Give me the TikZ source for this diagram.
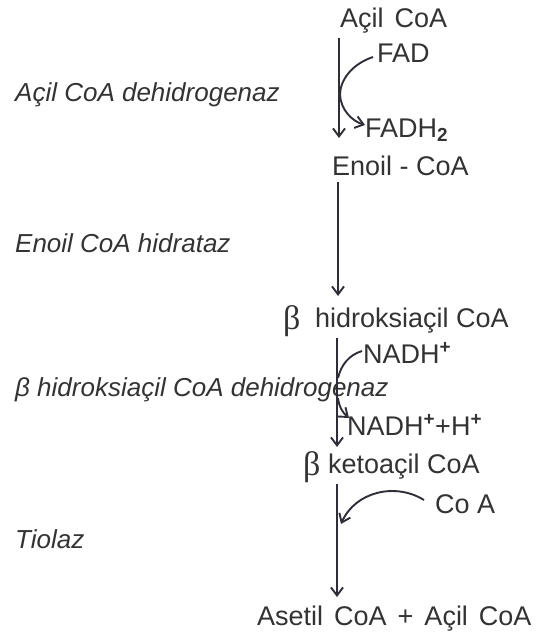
\documentclass[tikz,border=0pt]{standalone}
\usepackage{fontspec}
\setmainfont{Liberation Sans}
\newfontfamily\betafont{Liberation Serif}
\usetikzlibrary{arrows.meta}
\definecolor{ink}{HTML}{333333}
\definecolor{lineink}{HTML}{2E2E38}
\newcommand{\wsp}{\hspace{11pt}}
\begin{document}
\begin{tikzpicture}[x=1pt,y=-1pt,
  lbl/.style={anchor=base west, inner sep=0pt, text=ink, font=\fontsize{27}{31}\selectfont},
  enz/.style={anchor=base west, inner sep=0pt, text=ink, font=\fontsize{26}{30}\selectfont\itshape},
  bet/.style={anchor=base west, inner sep=0pt, text=ink, font=\fontsize{34}{38}\betafont},
  rx/.style={draw=lineink, line width=1.9pt, -{Straight Barb[length=8pt,width=12pt,line width=1.9pt]}},
  ln/.style={draw=lineink, line width=1.9pt}]
\useasboundingbox (0,0) rectangle (545,634);
% main chain
\node[lbl] (acil) at (340,28) {Açil\wsp CoA};
\node[lbl] (fad) at (377,63) {FAD};
\node[lbl] (fadh) at (365,137) {FADH\textsubscript{\bfseries 2}};
\node[lbl] (enoil) at (332,175) {Enoil - CoA};
\node[bet] (b1) at (283,329) {β};
\node[lbl] (hidr) at (315,327) {hidroksiaçil CoA};
\node[lbl] (nadh) at (363,363) {NADH\textsuperscript{\bfseries +}};
\node[lbl] (nadhh) at (347,435) {NADH\textsuperscript{\bfseries +}+H\textsuperscript{\bfseries +}};
\node[bet] (b2) at (303,475) {β};
\node[lbl] (keto) at (328,473) {ketoaçil CoA};
\node[lbl] (coa) at (435,513) {Co A};
\node[lbl] (prod) at (257,625) {Asetil\wsp CoA\wsp +\wsp Açil\wsp CoA};
% enzymes
\node[enz] (e1) at (15,101) {Açil CoA dehidrogenaz};
\node[enz] (e2) at (15,252) {Enoil CoA hidrataz};
\node[enz] (e3) at (15,396) {β hidroksiaçil CoA dehidrogenaz};
\node[enz] (e4) at (15,548) {Tiolaz};
% coordinates
\coordinate (a1) at (339,38);
\coordinate (a1e) at (339,138);
\coordinate (f1) at (373,57);
\coordinate (fj) at (340,95);
\coordinate (f2) at (365,125);
\coordinate (a2) at (338,182);
\coordinate (a2e) at (338,296);
\coordinate (a3) at (337,338);
\coordinate (a3e) at (337,447);
\coordinate (n1) at (362,351);
\coordinate (n2) at (338,378);
\coordinate (m1) at (338,398);
\coordinate (m2) at (349,418);
\coordinate (a4) at (337,484);
\coordinate (a4e) at (337,597);
\coordinate (c1) at (424,500);
\coordinate (c2) at (341,524);
% arrows
\draw[rx] (a1) -- (a1e);
\draw[rx] (f1) .. controls (352,64) and (340,80) .. (fj) .. controls (341,110) and (352,121) .. (f2);
\draw[rx] (a2) -- (a2e);
\draw[rx] (a3) -- (a3e);
\draw[ln] (n1) .. controls (349,355) and (341,365) .. (n2);
\draw[rx] (m1) .. controls (339,407) and (343,413) .. (m2);
\draw[rx] (a4) -- (a4e);
\draw[rx] (c1) .. controls (395,482) and (355,492) .. (c2);
\end{tikzpicture}
\end{document}
